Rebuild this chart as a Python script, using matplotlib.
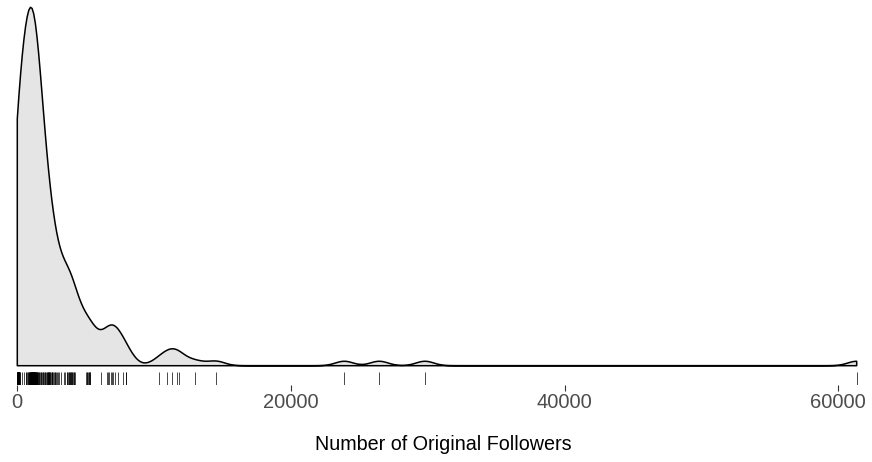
import matplotlib
matplotlib.use('Agg')
import matplotlib.pyplot as plt
import numpy as np

# original followers per account
followers_low = [0, 3, 7, 10, 14, 18, 21, 25, 29, 33, 36, 40, 44, 48, 51, 55, 59, 63,
                 67, 70, 74, 78, 82, 86, 90, 94, 98, 102, 106, 110, 115, 120, 125, 130,
                 136, 142, 150, 170, 210, 330, 480, 600]
followers_peak = [640, 710, 760, 805, 830, 860, 885, 905, 920, 940, 955, 970, 985, 990,
                  1005, 1015, 1020, 1030, 1040, 1050, 1060, 1070, 1075, 1085, 1090, 1095,
                  1105, 1110, 1120, 1125, 1135, 1140, 1150, 1160, 1165, 1175, 1185, 1190,
                  1205, 1210, 1220, 1230, 1240, 1250, 1255, 1265, 1275, 1290, 1305, 1320,
                  1330, 1340, 1355, 1365, 1380, 1410, 1430, 1445, 1460, 1480, 1510, 1555]
followers_mid = [1620, 1680, 1710, 1760, 1810, 1860, 1905, 1950, 2010, 2060, 2105, 2140,
                 2180, 2210, 2250, 2280, 2300, 2330, 2350, 2390, 2420, 2460, 2505, 2540,
                 2570, 2610, 2660, 2720, 2760, 2840, 2910, 2990]
followers_tail = [3060, 3230, 3420, 3510, 3610, 3660, 3700, 3750, 3790, 3820, 3860, 3910,
                  3940, 3980, 4020, 4060, 4110, 4150, 4230, 5020, 5080, 5130, 5180, 5210,
                  5260, 5310, 5340, 6117, 6533, 6651, 6720, 6826, 6905, 7016, 7140, 7337,
                  7702, 7944, 7980, 10356, 10918, 11300, 11649, 11818, 12986, 14521]
followers_far = [23897, 26455, 29795, 61345]

x_ticks = [0, 20000, 40000, 60000]
x_label = 'Number of Original Followers'
bandwidth = 650.0

data = np.array(followers_low + followers_peak + followers_mid + followers_tail + followers_far, dtype=float)

# gaussian kernel density over the data range (512 points, like R's density)
grid = np.linspace(data.min(), data.max(), 512)
dens = np.exp(-0.5 * ((grid[:, None] - data[None, :]) / bandwidth) ** 2).sum(axis=1)
dens /= len(data) * bandwidth * np.sqrt(2 * np.pi)
peak = dens.max()

fig = plt.figure(figsize=(8.72, 4.62), dpi=100)
ax = fig.add_axes([0, 77 / 462, 1, 385 / 462])

poly_x = np.concatenate([[grid[0]], grid, [grid[-1]]])
poly_y = np.concatenate([[0], dens, [0]])
ax.fill(poly_x, poly_y, facecolor='#e5e5e5', edgecolor='black', linewidth=1.1,
        joinstyle='round', zorder=2)

# rug along the bottom of the panel
ax.vlines(data, 0, 0.0345, transform=ax.get_xaxis_transform(), color='black',
          linewidth=0.5, zorder=3)

ax.set_xlim(-1264, 62464)
ax.set_ylim(-0.05385 * peak, 1.0204 * peak)
ax.set_xticks(x_ticks)
ax.set_xticklabels([str(t) for t in x_ticks])
ax.set_yticks([])
for s in ax.spines.values():
    s.set_visible(False)
ax.tick_params(axis='x', colors='#333333', length=4, width=0.8, pad=2,
               labelsize=14.5, labelcolor='#4d4d4d')
for lbl in ax.get_xticklabels():
    lbl.set_family('Liberation Sans')

fig.text(443.5 / 872, 1 - 444 / 462, x_label, ha='center', va='center',
         fontsize=14.2, family='Liberation Sans', color='black')

fig.savefig('out.png', dpi=100)
